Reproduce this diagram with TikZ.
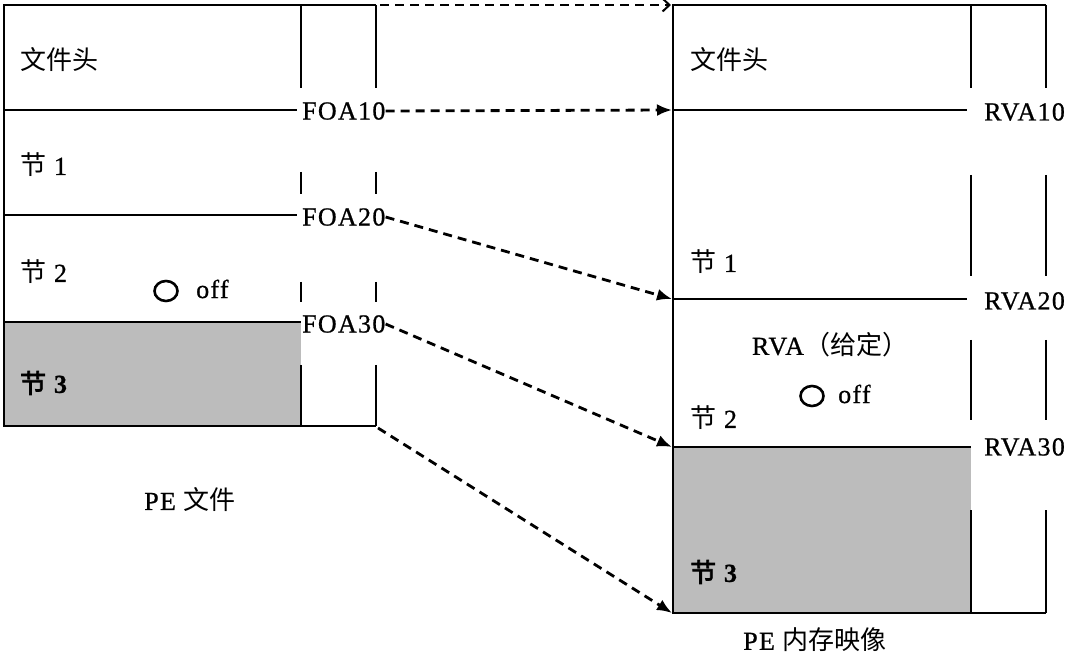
\documentclass[tikz,border=0pt]{standalone}
\usepackage{fontspec}
\setmainfont{Liberation Serif}[LetterSpace=5,FakeBold=0.8]
\newfontfamily\cjk{Noto Sans CJK SC}
\newfontfamily\cjkb{Noto Sans CJK SC}[FakeBold=3]
\usetikzlibrary{arrows.meta,shapes.geometric}
\definecolor{sectgray}{RGB}{188,188,188}
\tikzset{
  frame/.style={line width=2.8pt},
  lbl/.style={inner sep=0pt, anchor=west, font=\fontsize{26}{30}\selectfont},
  clbl/.style={inner sep=0pt, font=\fontsize{26}{30}\selectfont},
  addr/.style={inner sep=0pt, anchor=west, font=\fontsize{26}{30}\selectfont},
  maparrow/.style={line width=2.8pt, dash pattern=on 9pt off 6pt, -{Latex[length=15pt,width=12pt]}},
  toparrow/.style={line width=2.8pt, dash pattern=on 9pt off 6pt, -{Straight Barb[length=7pt,width=13pt,line width=2pt]}},
  offring/.style={draw, line width=2.6pt, ellipse, minimum width=23pt, minimum height=20pt, inner sep=0pt}
}
\begin{document}
\begin{tikzpicture}[x=1pt,y=-1pt]
\useasboundingbox (0,0) rectangle (1069,660);
% shaded sections
\fill[sectgray] (4,322) rectangle (301,426);
\fill[sectgray] (673,447) rectangle (971,613);

% ---------- left: PE file ----------
\draw[frame] (376,5) -- (4,5) -- (4,426) -- (376,426);
\foreach \x in {301,376}{
  \draw[frame] (\x,5) -- (\x,88);
  \draw[frame] (\x,172) -- (\x,194);
  \draw[frame] (\x,282) -- (\x,302);
  \draw[frame] (\x,365) -- (\x,426);
}
\node[addr] (foa10) at (302,111) {FOA10};
\node[addr] (foa20) at (302,217) {FOA20};
\node[addr] (foa30) at (302,324) {FOA30};
\coordinate (l10) at (4,110);
\coordinate (l20) at (4,215);
\coordinate (l30) at (4,322);
\draw[frame] (l10) -- (297,110);
\draw[frame] (l20) -- (297,215);
\draw[frame] (l30) -- (301,322);

\node[lbl] (lhead) at (20,60) {{\cjk 文件头}};
\node[lbl] (lsec1) at (20,165) {{\cjk 节} 1};
\node[lbl] (lsec2) at (20,272) {{\cjk 节} 2};
\node[offring] (lring) at (166,291) {};
\node[lbl] (loff) at (196,289) {off};
\node[lbl] (lsec3) at (20,383) {{\cjkb 节} \textbf{3}};
\node[clbl] (lcap) at (190,500) {PE {\cjk 文件}};

% ---------- right: PE memory image ----------
\draw[frame] (1046,5) -- (673,5) -- (673,613) -- (1046,613);
\foreach \x in {971,1046}{
  \draw[frame] (\x,5) -- (\x,88);
  \draw[frame] (\x,175) -- (\x,276);
  \draw[frame] (\x,340) -- (\x,420);
  \draw[frame] (\x,510) -- (\x,613);
}
\node[addr] (rva10) at (984,112) {RVA10};
\node[addr] (rva20) at (984,301) {RVA20};
\node[addr] (rva30) at (984,447) {RVA30};
\coordinate (r10) at (673,110);
\coordinate (r20) at (673,299);
\coordinate (r30) at (673,447);
\coordinate (rtop) at (673,5);
\coordinate (rbot) at (673,613);
\draw[frame] (r10) -- (967,110);
\draw[frame] (r20) -- (967,299);
\draw[frame] (r30) -- (971,447);

\node[lbl] (rhead) at (690,60) {{\cjk 文件头}};
\node[lbl] (rsec1) at (690,262) {{\cjk 节} 1};
\node[clbl] (rgiven) at (830,345) {RVA{\cjk （给定）}};
\node[offring] (rring) at (812,396) {};
\node[lbl] (roff) at (838,394) {off};
\node[lbl] (rsec2) at (690,418) {{\cjk 节} 2};
\node[lbl] (rsec3) at (690,572) {{\cjkb 节} \textbf{3}};
\node[clbl] (rcap) at (815,640) {PE {\cjk 内存映像}};

% ---------- mapping arrows ----------
\coordinate (ltop) at (380,5);
\coordinate (lbot) at (378,428);
\draw[toparrow] (ltop) -- ([xshift=-2pt]rtop);
\draw[maparrow] (foa10.east) -- ([xshift=-1pt]r10);
\draw[maparrow] (foa20.east) -- ([xshift=-1pt]r20);
\draw[maparrow] (foa30.east) -- ([xshift=-1pt]r30);
\draw[maparrow] (lbot) -- ([xshift=-1pt]rbot);
\end{tikzpicture}
\end{document}
